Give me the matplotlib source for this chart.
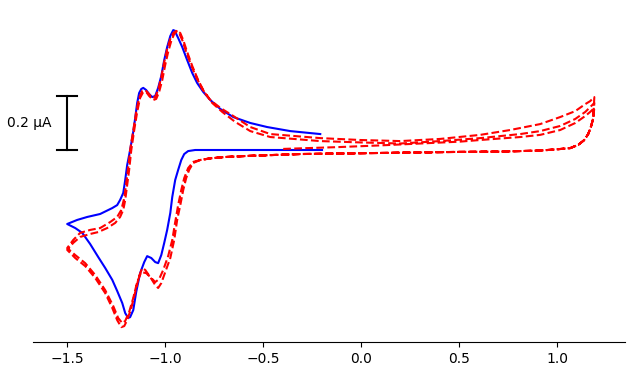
"""
Cyclic voltammogram: single cycle (blue) vs extended multi-cycle scan (red, dashed).
Current scale shown by a 0.2 µA bar instead of a y-axis.
"""

import numpy as np
import matplotlib.pyplot as plt

# ---------- data: potential (V) and current (µA) ----------
# blue cycle, cathodic sweep from -0.2 V to the -1.5 V vertex
blue_fwd_v = [-0.20, -0.515, -0.770, -0.847, -0.883, -0.903, -0.918, -0.934, -0.949,
              -0.964, -0.974, -0.990, -1.005, -1.020, -1.036, -1.051, -1.071, -1.092,
              -1.107, -1.128, -1.148, -1.163, -1.179, -1.189, -1.204, -1.219, -1.245,
              -1.270, -1.306, -1.342, -1.383, -1.423, -1.459, -1.500]
blue_fwd_i = [0.000, 0.000, 0.000, 0.000, -0.004, -0.015, -0.037, -0.074, -0.111,
              -0.174, -0.233, -0.296, -0.344, -0.389, -0.419, -0.415, -0.400, -0.393,
              -0.415, -0.456, -0.526, -0.593, -0.619, -0.622, -0.604, -0.567, -0.522,
              -0.481, -0.437, -0.396, -0.348, -0.307, -0.289, -0.274]

# blue cycle, anodic sweep back to -0.2 V
blue_rev_v = [-1.500, -1.449, -1.398, -1.332, -1.270, -1.245, -1.230, -1.214, -1.204,
              -1.194, -1.179, -1.163, -1.153, -1.143, -1.133, -1.122, -1.112, -1.097,
              -1.082, -1.066, -1.051, -1.036, -1.020, -1.005, -0.990, -0.974, -0.959,
              -0.949, -0.944, -0.934, -0.913, -0.888, -0.862, -0.837, -0.806, -0.770,
              -0.719, -0.653, -0.566, -0.480, -0.362, -0.209]
blue_rev_i = [-0.274, -0.259, -0.248, -0.237, -0.215, -0.204, -0.185, -0.159, -0.111,
              -0.056, 0.000, 0.067, 0.119, 0.174, 0.211, 0.226, 0.230, 0.222,
              0.207, 0.196, 0.200, 0.230, 0.274, 0.333, 0.381, 0.422, 0.444,
              0.441, 0.430, 0.415, 0.381, 0.333, 0.285, 0.248, 0.215, 0.185,
              0.152, 0.122, 0.100, 0.085, 0.070, 0.059]

# red scan, opening anodic sweep from open circuit (-0.4 V)
red_start_v = [-0.398, -0.311, -0.107, 0.097, 0.301]
red_start_i = [0.004, 0.006, 0.011, 0.017, 0.024]

# red anodic branches up to the +1.19 V vertex (three passes)
red_up1_v = [0.505, 0.607, 0.811, 0.913, 1.015, 1.092, 1.143, 1.168, 1.189]
red_up1_i = [0.031, 0.037, 0.048, 0.056, 0.074, 0.100, 0.126, 0.141, 0.156]
red_up2_v = [0.403, 0.607, 0.811, 0.913, 1.015, 1.092, 1.143, 1.168, 1.189]
red_up2_i = [0.033, 0.044, 0.059, 0.070, 0.089, 0.115, 0.141, 0.159, 0.174]
red_up3_v = [0.403, 0.607, 0.760, 0.913, 1.015, 1.092, 1.143, 1.168, 1.189]
red_up3_i = [0.041, 0.056, 0.074, 0.096, 0.122, 0.144, 0.170, 0.181, 0.196]

# red cathodic baseline from +1.19 V back towards the reduction wave
red_low_v = [1.184, 1.173, 1.158, 1.138, 1.107, 1.066, 0.990, 0.913, 0.709, 0.505,
             0.301, 0.097, -0.107, -0.311, -0.464, -0.582, -0.694, -0.770, -0.821]
red_low_i = [0.119, 0.089, 0.059, 0.037, 0.019, 0.007, 0.002, -0.002, -0.006, -0.007,
             -0.009, -0.011, -0.013, -0.015, -0.019, -0.022, -0.026, -0.031, -0.037]

# red reduction waves (two passes) down to the -1.5 V vertex
red_cat1_v = [-0.857, -0.878, -0.893, -0.908, -0.923, -0.939, -0.954, -0.974, -1.000,
              -1.020, -1.036, -1.051, -1.077, -1.102, -1.117, -1.133, -1.153, -1.173,
              -1.194, -1.209, -1.224, -1.245, -1.270, -1.306, -1.357, -1.408, -1.459,
              -1.500]
red_cat1_i = [-0.048, -0.074, -0.104, -0.148, -0.204, -0.259, -0.333, -0.400, -0.452,
              -0.493, -0.511, -0.500, -0.470, -0.444, -0.437, -0.467, -0.526, -0.585,
              -0.630, -0.652, -0.656, -0.630, -0.585, -0.530, -0.474, -0.430, -0.400,
              -0.370]
red_cat2_v = [-0.857, -0.883, -0.903, -0.918, -0.934, -0.949, -0.964, -0.985, -1.010,
              -1.031, -1.051, -1.071, -1.097, -1.122, -1.143, -1.163, -1.184, -1.204,
              -1.219, -1.240, -1.265, -1.306, -1.357, -1.408, -1.459, -1.500]
red_cat2_i = [-0.044, -0.067, -0.104, -0.148, -0.204, -0.267, -0.333, -0.393, -0.444,
              -0.478, -0.489, -0.474, -0.456, -0.452, -0.489, -0.548, -0.600, -0.633,
              -0.641, -0.622, -0.578, -0.519, -0.463, -0.419, -0.389, -0.363]

# red oxidation waves (two passes) from -1.5 V up to +0.2 V
red_ox1_v = [-1.500, -1.469, -1.434, -1.383, -1.342, -1.296, -1.255, -1.230, -1.214,
             -1.204, -1.194, -1.184, -1.173, -1.158, -1.143, -1.128, -1.112, -1.097,
             -1.082, -1.061, -1.046, -1.031, -1.015, -1.000, -0.985, -0.969, -0.954,
             -0.939, -0.923, -0.908, -0.888, -0.862, -0.832, -0.801, -0.760, -0.709,
             -0.643, -0.566, -0.464, -0.209, -0.005, 0.199]
red_ox1_i = [-0.370, -0.344, -0.322, -0.311, -0.304, -0.289, -0.270, -0.248, -0.222,
             -0.185, -0.130, -0.074, 0.000, 0.074, 0.141, 0.193, 0.215, 0.215,
             0.200, 0.185, 0.189, 0.215, 0.259, 0.315, 0.363, 0.404, 0.430,
             0.441, 0.433, 0.407, 0.363, 0.311, 0.259, 0.215, 0.174, 0.141,
             0.104, 0.070, 0.048, 0.033, 0.028, 0.024]
red_ox2_v = [-1.500, -1.469, -1.434, -1.383, -1.332, -1.281, -1.245, -1.224, -1.209,
             -1.199, -1.189, -1.179, -1.163, -1.148, -1.133, -1.117, -1.102, -1.087,
             -1.066, -1.051, -1.036, -1.020, -1.005, -0.990, -0.974, -0.959, -0.944,
             -0.929, -0.913, -0.893, -0.872, -0.842, -0.811, -0.770, -0.719, -0.653,
             -0.566, -0.464, -0.209, -0.005, 0.199]
red_ox2_i = [-0.363, -0.333, -0.307, -0.296, -0.289, -0.267, -0.248, -0.222, -0.178,
             -0.122, -0.067, 0.000, 0.074, 0.141, 0.193, 0.219, 0.222, 0.211,
             0.193, 0.196, 0.222, 0.270, 0.326, 0.374, 0.411, 0.433, 0.441,
             0.433, 0.407, 0.363, 0.322, 0.270, 0.226, 0.185, 0.156, 0.126,
             0.085, 0.059, 0.044, 0.037, 0.033]

# one continuous red scan: start -> 1.19 -> -1.5 -> 1.19 -> -1.5 -> 1.19 -> back
red_v = (red_start_v + red_up1_v + red_low_v + red_cat1_v + red_ox1_v + red_up2_v
         + red_low_v + red_cat2_v + red_ox2_v + red_up3_v + red_low_v)
red_i = (red_start_i + red_up1_i + red_low_i + red_cat1_i + red_ox1_i + red_up2_i
         + red_low_i + red_cat2_i + red_ox2_i + red_up3_i + red_low_i)

blue_v = blue_fwd_v + blue_rev_v
blue_i = blue_fwd_i + blue_rev_i

# scale bar
bar_v = -1.5
bar_i = [0.0, 0.2]
bar_half = 0.05

# ---------- plot ----------
fig = plt.figure(figsize=(6.4, 3.65), dpi=100)
ax = fig.add_axes([0.052, 0.063, 0.925, 0.896])

ax.plot(blue_v, blue_i, color="blue", linewidth=1.5)
ax.plot(red_v, red_i, color="red", linewidth=1.5, linestyle="--")

ax.plot([bar_v, bar_v], bar_i, color="black", linewidth=1.5)
for y in bar_i:
    ax.plot([bar_v - bar_half, bar_v + bar_half], [y, y], color="black", linewidth=1.5)
ax.text(bar_v - 0.078, np.mean(bar_i), "0.2 µA", ha="right", va="center",
        fontsize=10, clip_on=False)

ax.set_xlim(-1.673, 1.347)
ax.set_ylim(-0.711, 0.50)
ax.set_xticks([-1.5, -1.0, -0.5, 0.0, 0.5, 1.0])
ax.set_yticks([])
for side in ("left", "right", "top"):
    ax.spines[side].set_visible(False)

plt.savefig("out.png", dpi=100)
plt.close()
